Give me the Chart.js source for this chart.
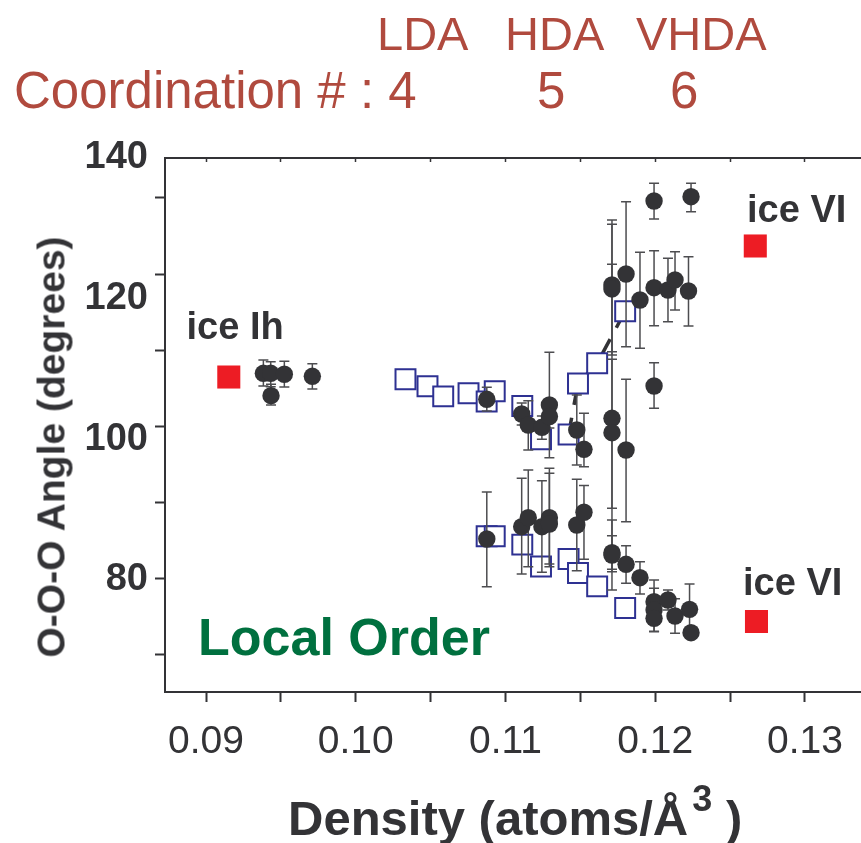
<!DOCTYPE html>
<html>
<head>
<meta charset="utf-8">
<title>O-O-O angle vs density</title>
<script src="https://cdn.jsdelivr.net/npm/chart.js@4.4.1/dist/chart.umd.min.js"></script>
<style>
    html, body { margin: 0; padding: 0; background: #fff; }
    #wrap { position: relative; width: 861px; height: 843px; overflow: hidden; font-family: "Liberation Sans", Arial, sans-serif; }
    #chart { position: absolute; left: 0; top: 0; }
    .head { position: absolute; color: #b04a3e; line-height: 1; white-space: nowrap; }
    .phase { font-size: 47px; top: 10px; }
    .coord { font-size: 51px; top: 65px; }
    #yTitle { position: absolute; left: 51px; top: 447px; transform: translate(-50%, -50%) rotate(-90deg); font-weight: bold; font-size: 39px; line-height: 1; color: #333336; white-space: nowrap; }
    #xTitle { position: absolute; left: 288px; top: 794px; font-weight: bold; font-size: 49px; line-height: 1; color: #333336; white-space: nowrap; }
    #xTitle sup { font-size: 36px; position: relative; top: -24px; margin-left: 4px; vertical-align: baseline; }
</style>
</head>
<body>
<div id="wrap">
    <canvas id="chart" width="861" height="843"></canvas>

    <div class="head phase" style="left:377px;">LDA</div>
    <div class="head phase" style="left:505px;">HDA</div>
    <div class="head phase" style="left:636px;">VHDA</div>
    <div class="head coord" style="left:14px;">Coordination # : 4</div>
    <div class="head coord" style="left:537px;">5</div>
    <div class="head coord" style="left:670px;">6</div>

    <div id="yTitle">O-O-O Angle (degrees)</div>
    <div id="xTitle">Density (atoms/Å<sup>3</sup> )</div>
</div>

<script>
// simulation points (filled circles) with their error bars
const circleDensity = [
    0.09383, 0.09432, 0.09523, 0.09710, 0.09434,
    0.10875, 0.10875,
    0.11108, 0.11152, 0.11243, 0.11293, 0.11293,
    0.11108, 0.11152, 0.11243, 0.11293, 0.11293,
    0.11476, 0.11524, 0.11476, 0.11524,
    0.11711, 0.11711, 0.11711, 0.11711, 0.11711, 0.11711,
    0.11805, 0.11805, 0.11805,
    0.11898, 0.11898,
    0.11992, 0.11992, 0.11992, 0.11992, 0.11992, 0.11992,
    0.12085, 0.12085,
    0.12132, 0.12132,
    0.12239, 0.12222, 0.12229, 0.12239
];
const circleAngle = [
    109.39, 109.39, 109.25, 108.96, 106.21,
    105.69, 85.83,
    103.60, 102.04, 101.71, 104.88, 103.25,
    87.58, 88.86, 87.58, 88.86, 87.96,
    101.33, 98.58, 87.82, 89.63,
    121.94, 121.38, 102.99, 100.94, 83.88, 83.55,
    123.51, 98.48, 82.23,
    119.81, 80.33,
    133.89, 121.56, 107.58, 76.91, 75.73, 74.55,
    121.23, 77.16,
    122.66, 74.88,
    134.50, 121.09, 75.83, 72.51
];
const circleHigh = [
    111.28, 111.04, 111.10, 110.76, 107.83,
    107.40, 92.51,
    105.17, 105.49, 103.32, 112.38, 104.88,
    94.46, 95.64, 94.12, 95.88, 95.17,
    106.30, 103.70, 94.32, 93.44,
    131.19, 130.58, 124.89, 111.38, 86.30, 88.53,
    133.79, 108.54, 84.88,
    126.59, 82.60,
    136.41, 126.82, 110.90, 78.82, 80.00, 76.40,
    125.74, 78.58,
    126.68, 77.34,
    136.41, 125.97, 79.43, 72.51
];
const circleLow = [
    107.58, 107.49, 107.44, 107.16, 104.88,
    104.03, 79.05,
    102.04, 98.48, 100.01, 97.39, 101.61,
    80.85, 81.89, 81.09, 81.89, 82.27,
    96.35, 96.11, 81.32, 82.94,
    112.46, 111.99, 81.18, 90.19, 81.52, 78.58,
    113.17, 88.29, 79.53,
    112.94, 78.01,
    131.33, 116.16, 104.41, 75.02, 72.65, 72.71,
    116.73, 75.73,
    118.39, 72.42,
    132.37, 116.12, 72.32, 72.51
];

// open squares: upper and lower branch share the same densities
const squareDensity = [0.10332, 0.10479, 0.10584, 0.10753, 0.10874, 0.10928, 0.11112, 0.11237, 0.11421, 0.11484, 0.11612, 0.11799];
const squareUpper = [108.54, 107.56, 106.11, 106.56, 105.38, 106.85, 104.74, 99.99, 100.70, 107.93, 110.81, 118.21];
const squareLower = [null, null, null, null, 86.23, 86.23, 85.03, 81.92, 82.99, 81.00, 79.09, 76.02];
// the dashed guide runs through the last four upper squares
const guideFrom = 8;

// crystalline references: ice Ih, ice VI (two angles)
const iceDensity = [0.09152, 0.12668, 0.12676];
const iceAngle = [108.86, 127.49, 74.10];

// axes
const xTickValues = [0.09, 0.095, 0.10, 0.105, 0.11, 0.115, 0.12, 0.125, 0.13];
const xTickLabels = ['0.09', '', '0.10', '', '0.11', '', '0.12', '', '0.13'];
const yTickLabels = [80, 100, 120, 140];
const yFrameTicks = [70, 80, 90, 100, 110, 120, 130];

const INK = '#333336';

const toPoints = (xs, ys) => xs.map((x, i) => ({ x: x, y: ys[i] })).filter(p => p.y !== null);

const notes = [
    { text: 'ice Ih', x: 0.0887, y: 114.27, font: 'bold 38px "Liberation Sans", Arial, sans-serif', color: INK },
    { text: 'ice VI', x: 0.12613, y: 130.90, font: 'bold 38px "Liberation Sans", Arial, sans-serif', color: INK },
    { text: 'ice VI', x: 0.12586, y: 77.87, font: 'bold 38px "Liberation Sans", Arial, sans-serif', color: INK },
    { text: 'Local Order', x: 0.08947, y: 69.34, font: 'bold 52px "Liberation Sans", Arial, sans-serif', color: '#00703f' }
];

// vertical error bars, drawn just before the circles so they sit on top of the squares
const errorBars = {
    id: 'errorBars',
    beforeDatasetDraw(chart, args) {
        const ds = chart.data.datasets[args.index];
        if (!ds.errHigh) return;
        const { ctx, chartArea, scales: { x, y } } = chart;
        ctx.save();
        ctx.beginPath();
        ctx.rect(chartArea.left, chartArea.top, chartArea.width, chartArea.height);
        ctx.clip();
        ctx.strokeStyle = '#4d4d50';
        ctx.lineWidth = 1.5;
        ds.data.forEach((p, i) => {
            const px = x.getPixelForValue(p.x);
            const top = y.getPixelForValue(ds.errHigh[i]);
            const bot = y.getPixelForValue(ds.errLow[i]);
            if (Math.abs(bot - top) < 1) return;
            ctx.beginPath();
            ctx.moveTo(px, top); ctx.lineTo(px, bot);
            ctx.moveTo(px - 5, top); ctx.lineTo(px + 5, top);
            ctx.moveTo(px - 5, bot); ctx.lineTo(px + 5, bot);
            ctx.stroke();
        });
        ctx.restore();
    }
};

const plotNotes = {
    id: 'plotNotes',
    afterDatasetsDraw(chart) {
        const { ctx, scales: { x, y } } = chart;
        ctx.save();
        ctx.textAlign = 'left';
        ctx.textBaseline = 'alphabetic';
        notes.forEach(n => {
            ctx.font = n.font;
            ctx.fillStyle = n.color;
            ctx.fillText(n.text, x.getPixelForValue(n.x), y.getPixelForValue(n.y));
        });
        ctx.restore();
    }
};

Chart.defaults.font.family = '"Liberation Sans", Arial, sans-serif';
Chart.defaults.color = INK;

const xMin = 0.08726, xMax = 0.13374;

new Chart(document.getElementById('chart'), {
    type: 'scatter',
    data: {
        datasets: [
            {
                type: 'line',
                data: toPoints(squareDensity.slice(guideFrom), squareUpper.slice(guideFrom)),
                borderColor: INK,
                borderWidth: 3.5,
                borderDash: [17, 13],
                pointRadius: 0,
                fill: false,
                order: 5
            },
            {
                data: toPoints(squareDensity, squareUpper).concat(toPoints(squareDensity, squareLower)),
                pointStyle: 'rect',
                pointRadius: 14.1,
                backgroundColor: '#ffffff',
                borderColor: '#2e3192',
                borderWidth: 2,
                order: 4
            },
            {
                data: toPoints(iceDensity, iceAngle),
                pointStyle: 'rect',
                pointRadius: 16.3,
                backgroundColor: '#ed1c24',
                borderWidth: 0,
                order: 3
            },
            {
                data: toPoints(circleDensity, circleAngle),
                errHigh: circleHigh,
                errLow: circleLow,
                pointStyle: 'circle',
                pointRadius: 8.7,
                backgroundColor: INK,
                borderWidth: 0,
                order: 1
            }
        ]
    },
    options: {
        responsive: false,
        devicePixelRatio: 1,
        animation: false,
        events: [],
        layout: { padding: { top: 156, left: 0, right: 0, bottom: 0 }, autoPadding: false },
        plugins: {
            legend: { display: false },
            tooltip: { enabled: false }
        },
        scales: {
            x: {
                type: 'linear',
                position: 'bottom',
                min: xMin,
                max: xMax,
                bounds: 'data',
                afterBuildTicks: s => { s.ticks = xTickValues.map(v => ({ value: v })); },
                afterFit: s => { s.height = 151; },
                ticks: {
                    callback: (v, i) => xTickLabels[i],
                    font: { size: 39 },
                    color: INK,
                    padding: 17,
                    maxRotation: 0,
                    autoSkip: false
                },
                grid: { drawOnChartArea: false, tickLength: 10, tickWidth: 2, tickColor: INK },
                border: { color: INK, width: 2 }
            },
            xTop: {
                type: 'linear',
                position: 'top',
                min: xMin,
                max: xMax,
                bounds: 'data',
                afterBuildTicks: s => { s.ticks = xTickValues.map(v => ({ value: v })); },
                afterFit: s => { s.height = 2; },
                ticks: { display: false },
                grid: { drawOnChartArea: false, tickLength: -4, tickWidth: 1.5, tickColor: INK },
                border: { color: INK, width: 2 }
            },
            y: {
                type: 'linear',
                position: 'left',
                weight: 1,
                min: 64.076,
                max: 140,
                bounds: 'data',
                afterBuildTicks: s => { s.ticks = yTickLabels.map(v => ({ value: v })); },
                afterFit: s => { s.width = 155; },
                ticks: { font: { size: 38, weight: 'bold' }, color: INK, padding: 7 },
                grid: { display: false, drawTicks: false },
                border: { display: false }
            },
            yFrame: {
                type: 'linear',
                position: 'left',
                weight: 0,
                min: 65.14,
                max: 135.25,
                bounds: 'data',
                afterBuildTicks: s => { s.ticks = yFrameTicks.map(v => ({ value: v })); },
                afterFit: s => { s.width = 10; },
                ticks: { display: false },
                grid: { drawOnChartArea: false, tickLength: 10, tickWidth: 2, tickColor: INK },
                border: { color: INK, width: 2 }
            }
        }
    },
    plugins: [errorBars, plotNotes]
});
</script>
</body>
</html>
